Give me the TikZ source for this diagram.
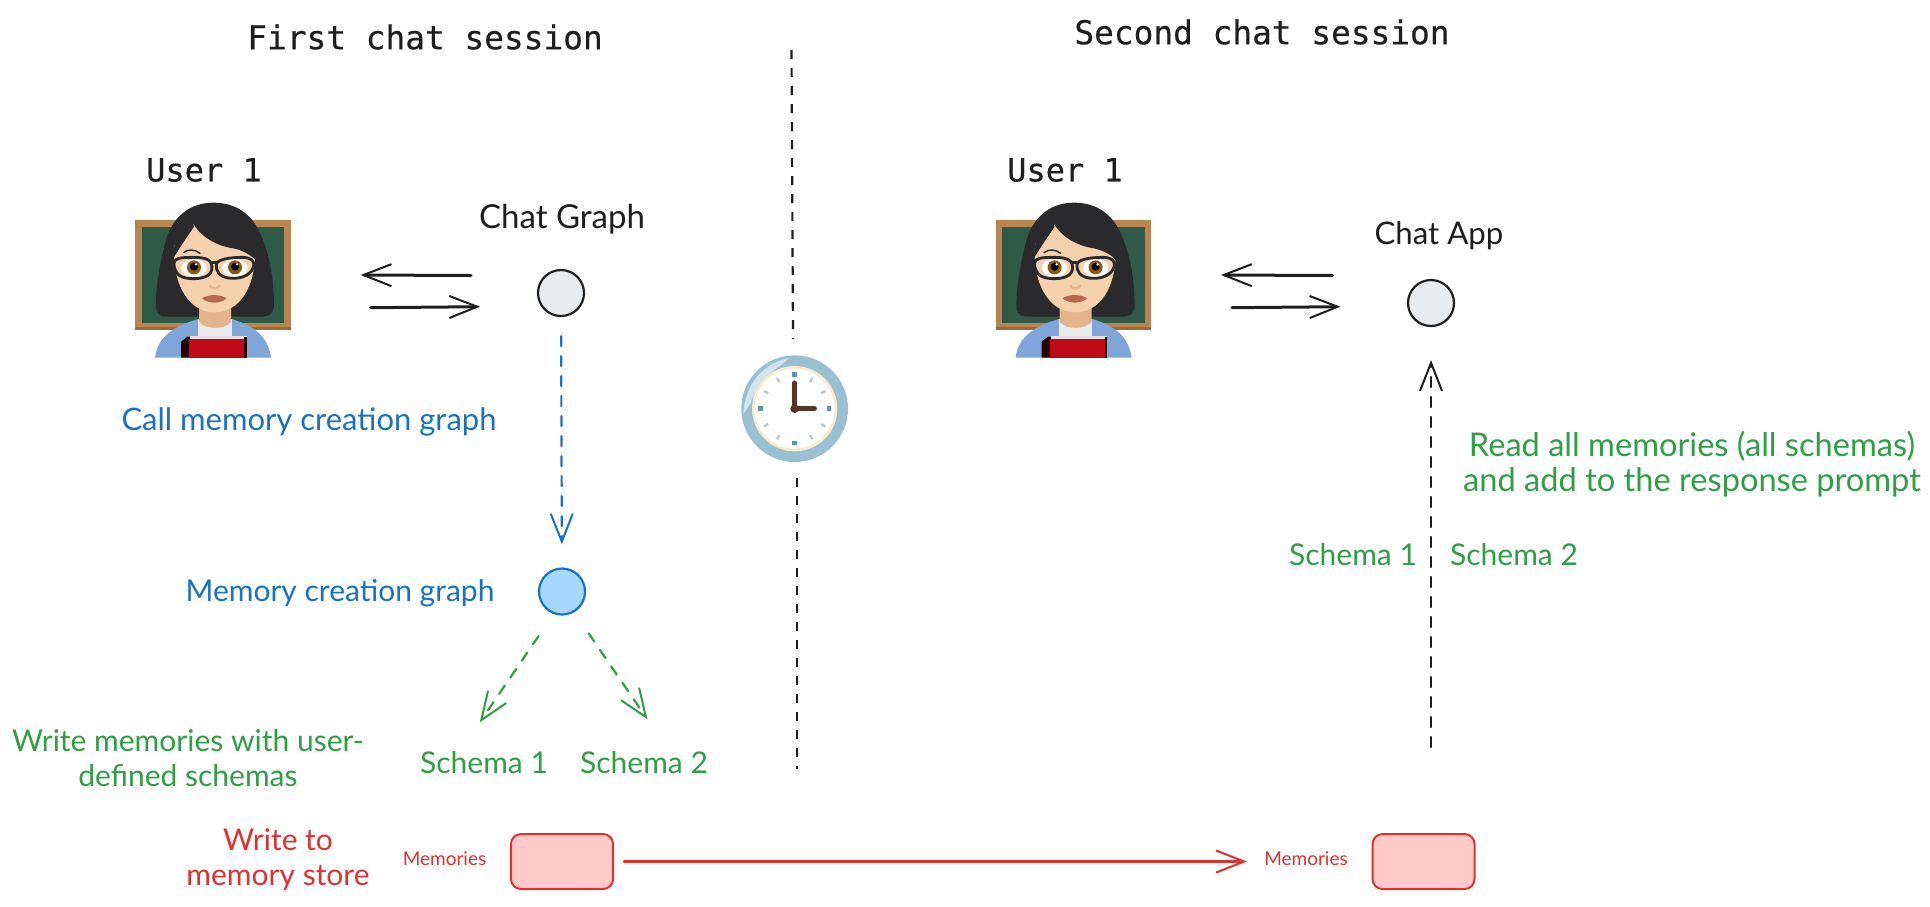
\documentclass[tikz,border=0pt]{standalone}
\usepackage{fontspec}
\setmainfont{Lato}
\newfontfamily\monofam[FakeBold=0.4]{DejaVu Sans Mono}
\usetikzlibrary{arrows.meta}
\definecolor{ink}{HTML}{1E1E1E}
\definecolor{hblue}{HTML}{1971C2}
\definecolor{hgreen}{HTML}{2F9E44}
\definecolor{hred}{HTML}{E03131}
\definecolor{wood}{HTML}{B98652}
\definecolor{woodd}{HTML}{9C6B3C}
\definecolor{boardg}{HTML}{2F5A48}
\definecolor{hair}{HTML}{2A2A2C}
\definecolor{skin}{HTML}{F4D0AC}
\definecolor{skind}{HTML}{E5B48C}
\definecolor{lips}{HTML}{B5684C}
\definecolor{iris}{HTML}{8A5A12}
\definecolor{jacket}{HTML}{7FA5D9}
\definecolor{bookr}{HTML}{C30B18}
\definecolor{clockb}{HTML}{98C0D2}
\definecolor{clockc}{HTML}{FBE9CC}
\definecolor{clockt}{HTML}{5A98A8}
\definecolor{clockg}{HTML}{BCC8CE}
\definecolor{clockh}{HTML}{5A3528}
\definecolor{dotgrey}{HTML}{E9ECEF}
\definecolor{dotblue}{HTML}{A5D8FF}
\definecolor{boxred}{HTML}{FFC9C9}
\tikzset{
  title/.style={inner sep=0pt,text=ink,font=\monofam\fontsize{16.4}{20}\selectfont},
  usertext/.style={inner sep=0pt,text=ink,font=\monofam\fontsize{16}{20}\selectfont},
  hand/.style={inner sep=0pt,align=center,font=\fontsize{15}{17.5}\selectfont},
  handk/.style={hand,text=ink},
  handb/.style={hand,text=hblue},
  handg/.style={hand,text=hgreen},
  handr/.style={hand,text=hred},
  smallr/.style={inner sep=0pt,text=hred,font=\fontsize{9.5}{11}\selectfont},
  dot/.style={circle,draw=ink,fill=dotgrey,line width=1.1pt,minimum size=23pt,inner sep=0pt},
  dotb/.style={dot,draw=hblue,fill=dotblue},
  membox/.style={draw=hred,fill=boxred,line width=1pt,rounded corners=5pt,
    minimum width=51pt,minimum height=27.5pt,inner sep=0pt},
  ghost/.style={inner sep=0pt,minimum width=78pt,minimum height=78pt},
  arr/.style={-{Straight Barb[length=14pt,width=11pt,line width=1pt]},line cap=round},
  solidk/.style={arr,draw=ink,line width=1.5pt},
  dashk/.style={arr,draw=ink,line width=1.1pt,dash pattern=on 5pt off 5pt},
  divider/.style={draw=ink,line width=1.1pt,dash pattern=on 4.5pt off 4.5pt},
  dashb/.style={arr,draw=hblue,line width=1.1pt,dash pattern=on 5pt off 5pt},
  dashg/.style={arr,draw=hgreen,line width=1.1pt,dash pattern=on 5pt off 5pt},
  solidr/.style={arr,draw=hred,line width=1.2pt},
  teacher/.pic={
    \begin{scope}[x=0.16667pt,y=-0.16667pt]
      % board
      \fill[wood] (105,270) rectangle (572,600);
      \fill[woodd] (105,590) rectangle (572,600);
      \fill[boardg] (125,290) rectangle (552,580);
      % hair back
      \fill[hair] (340,218) .. controls (270,218) and (215,260) .. (195,340)
        .. controls (178,410) and (165,480) .. (168,535)
        .. controls (170,555) and (185,560) .. (205,560) -- (485,560)
        .. controls (510,560) and (522,550) .. (522,525)
        .. controls (522,440) and (505,350) .. (470,290)
        .. controls (440,240) and (395,218) .. (340,218) -- cycle;
      % jacket
      \fill[jacket] (165,683) .. controls (172,625) and (215,590) .. (295,567)
        -- (395,567) .. controls (470,590) and (505,625) .. (513,683) -- cycle;
      \fill[black!8!white] (295,567) -- (395,567) -- (395,625) -- (295,625) -- cycle;
      % neck
      \fill[skind] (297,510) -- (393,510) -- (393,575) .. controls (375,600) and (315,600) .. (297,575) -- cycle;
      % face
      \fill[skin] (222,370) .. controls (222,470) and (270,547) .. (343,547)
        .. controls (420,547) and (465,470) .. (465,370)
        .. controls (465,300) and (420,270) .. (343,270)
        .. controls (270,270) and (222,300) .. (222,370) -- cycle;
      % fringe
      \fill[hair] (265,240) .. controls (275,300) and (330,345) .. (400,355)
        .. controls (430,362) and (455,375) .. (470,395)
        .. controls (480,340) and (450,260) .. (390,235)
        .. controls (345,215) and (290,220) .. (265,240) -- cycle;
      \fill[hair] (268,240) .. controls (235,290) and (220,340) .. (220,385)
        .. controls (240,350) and (262,320) .. (282,290) -- cycle;
      % eyes
      \fill[white] (282,414) ellipse (38 and 27);
      \fill[white] (405,414) ellipse (38 and 27);
      \fill[iris] (282,412) circle (21);
      \fill[iris] (405,412) circle (21);
      \fill[black] (282,410) circle (12);
      \fill[black] (405,410) circle (12);
      \fill[white] (288,403) circle (4);
      \fill[white] (411,403) circle (4);
      % glasses
      \draw[hair,line width=1.4pt] (222,400) .. controls (222,385) and (240,382) .. (280,382)
        .. controls (320,382) and (340,390) .. (335,420)
        .. controls (330,445) and (290,448) .. (265,445)
        .. controls (235,442) and (222,425) .. (222,400) -- cycle;
      \draw[hair,line width=1.4pt] (350,400) .. controls (360,385) and (400,382) .. (430,382)
        .. controls (455,384) and (465,392) .. (460,412)
        .. controls (450,440) and (415,448) .. (385,444)
        .. controls (360,440) and (345,425) .. (350,400) -- cycle;
      \draw[hair,line width=1.4pt] (335,398) -- (350,398);
      % brow, nose, lips
      \draw[hair,line width=0.7pt,line cap=round] (250,368) .. controls (265,356) and (285,358) .. (300,370);
      \draw[skind,line width=1.2pt,line cap=round] (330,468) .. controls (338,478) and (350,478) .. (358,468);
      \fill[lips] (306,505) .. controls (325,492) and (360,492) .. (380,505)
        .. controls (360,522) and (325,522) .. (306,505) -- cycle;
      % book
      \fill[black!85!red] (243,683) -- (243,635) -- (262,620) -- (285,620) -- (285,683) -- cycle;
      \fill[black!12!white] (270,618) -- (440,618) -- (440,626) -- (270,626) -- cycle;
      \fill[bookr] (268,626) rectangle (432,683);
      \fill[black!85!red] (432,620) rectangle (440,683);
    \end{scope}
  },
  clockpic/.pic={
    \begin{scope}[x=0.16667pt,y=-0.16667pt]
      \fill[clockb] (224,206) circle (160);
      \fill[clockb!45!white] (70,222) .. controls (75,130) and (130,70) .. (205,55)
        .. controls (195,75) and (120,100) .. (92,190) -- cycle;
      \fill[clockc] (224,206) circle (128);
      \fill[white] (224,206) circle (120);
      \foreach \a in {30,60,120,150,210,240,300,330}
        \draw[clockg,line width=1.2pt] (224,206) ++(\a:92) -- ++(\a:14);
      \foreach \px/\py in {224/103,224/309,121/206,327/206}
        \fill[clockt] (\px-7,\py-7) rectangle (\px+7,\py+7);
      \draw[clockh,line width=2.2pt,line cap=round] (224,206) -- (224,128);
      \draw[clockh,line width=2.2pt,line cap=round] (224,206) -- (284,206);
      \fill[clockh] (224,206) circle (13);
    \end{scope}
  }
}
\begin{document}
\begin{tikzpicture}[x=0.5pt,y=-0.5pt]
\useasboundingbox (0,0) rectangle (1930,906);
% titles
\node[title] (t1) at (425,37) {First chat session};
\node[title] (t2) at (1262,32) {Second chat session};
% dividers
\coordinate (d1) at (791.5,50);
\coordinate (d2) at (793,339);
\coordinate (d3) at (797,478);
\coordinate (d4) at (797,769);
\draw[divider] (d1) -- (d2);
\draw[divider] (d3) -- (d4);
\pic at (720,340) {clockpic};
% left users
\node[usertext] (u1) at (204,170) {User 1};
\pic at (100,130) {teacher};
\node[ghost] (em1) at (213,280) {};
\node[handk,font=\fontsize{16.5}{19}\selectfont] (cg) at (562,219) {Chat Graph};
\node[dot] (chat) at (561,293) {};
\coordinate (a1s) at (471,275.5);
\coordinate (a1e) at (360.7,275);
\coordinate (a2s) at (370.7,307.7);
\coordinate (a2e) at (480,306.7);
\draw[solidk] (a1s) -- (a1e);
\draw[solidk] (a2s) -- (a2e);
\node[handb,font=\fontsize{15.5}{18}\selectfont] (call) at (309,422) {Call memory creation graph};
\node[handb] (mc) at (340,593) {Memory creation graph};
\node[dotb] (mem) at (562,591.5) {};
\draw[dashb,shorten <=9.5pt,shorten >=11.5pt] (chat) -- (mem);
% schemas left
\node[handg] (s1) at (484,763) {Schema 1};
\node[handg] (s2) at (644,763) {Schema 2};
\coordinate (g1s) at (538.6,636);
\coordinate (g1e) at (479.8,722.3);
\coordinate (g2s) at (588.6,633.3);
\coordinate (g2e) at (647.4,719.3);
\draw[dashg] (g1s) -- (g1e);
\draw[dashg] (g2s) -- (g2e);
\node[handg] (wm) at (188,758.5) {Write memories with user-\\defined schemas};
\node[handr] (ws) at (278,860) {Write to\\memory store};
% memories
\node[smallr] (l1) at (444.5,859) {Memories};
\node[membox] (box1) at (562,861.5) {};
\node[smallr] (l2) at (1306,859) {Memories};
\node[membox] (box2) at (1423.5,861.5) {};
\draw[solidr,shorten <=5pt,shorten >=8.5pt] (box1.east) -- (box1.east -| l2.west);
% right users
\node[usertext] (u2) at (1065,170) {User 1};
\pic at (960.6,130) {teacher};
\node[ghost] (em2) at (1073.6,280) {};
\node[handk,font=\fontsize{15.6}{18}\selectfont] (ca) at (1439,236) {Chat App};
\node[dot] (app) at (1431,303) {};
\coordinate (b1s) at (1332.5,275.5);
\coordinate (b1e) at (1221,275);
\coordinate (b2s) at (1232,307.7);
\coordinate (b2e) at (1340.4,306.7);
\draw[solidk] (b1s) -- (b1e);
\draw[solidk] (b2s) -- (b2e);
\coordinate (rs) at (1431,747);
\draw[dashk,shorten >=16.5pt] (rs) -- (app.south);
\node[handg,font=\fontsize{16.3}{17.5}\selectfont] (rd) at (1692,464) {Read all memories (all schemas)\\and add to the response prompt};
\node[handg] (s3) at (1353,555) {Schema 1};
\node[handg] (s4) at (1514,555) {Schema 2};
\end{tikzpicture}
\end{document}
